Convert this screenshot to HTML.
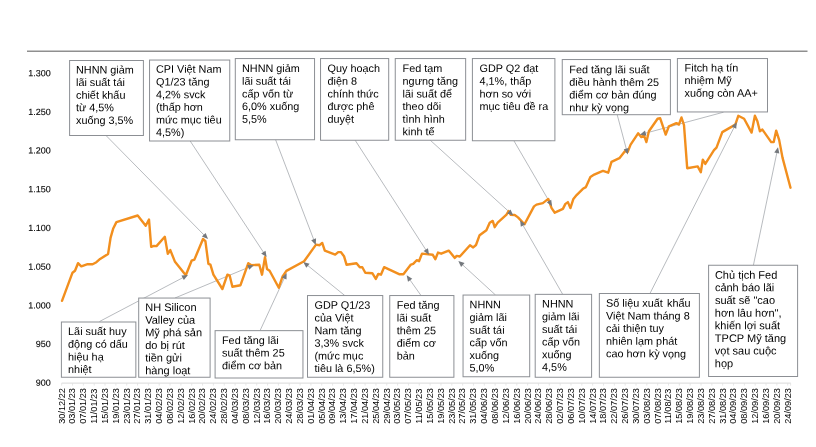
<!DOCTYPE html><html><head><meta charset="utf-8"><title>chart</title><style>html,body{margin:0;padding:0;background:#fff}svg{display:block}text{font-family:"Liberation Sans",sans-serif;fill:#000}</style></head><body>
<svg width="816" height="447" viewBox="0 0 816 447">
<rect width="816" height="447" fill="#fff"/>
<line x1="27" y1="51.2" x2="807.5" y2="51.2" stroke="#8f8f8f" stroke-width="1.4"/>
<line x1="61.7" y1="383.1" x2="790.8" y2="383.1" stroke="#d9d9d9" stroke-width="1"/>
<path d="M61.70 383.1V385.6M72.54 383.1V385.6M83.37 383.1V385.6M94.21 383.1V385.6M105.04 383.1V385.6M115.88 383.1V385.6M126.72 383.1V385.6M137.55 383.1V385.6M148.39 383.1V385.6M159.22 383.1V385.6M170.06 383.1V385.6M180.90 383.1V385.6M191.73 383.1V385.6M202.57 383.1V385.6M213.40 383.1V385.6M224.24 383.1V385.6M235.08 383.1V385.6M245.91 383.1V385.6M256.75 383.1V385.6M267.58 383.1V385.6M278.42 383.1V385.6M289.26 383.1V385.6M300.09 383.1V385.6M310.93 383.1V385.6M321.76 383.1V385.6M332.60 383.1V385.6M343.44 383.1V385.6M354.27 383.1V385.6M365.11 383.1V385.6M375.94 383.1V385.6M386.78 383.1V385.6M397.62 383.1V385.6M408.45 383.1V385.6M419.29 383.1V385.6M430.12 383.1V385.6M440.96 383.1V385.6M451.80 383.1V385.6M462.63 383.1V385.6M473.47 383.1V385.6M484.30 383.1V385.6M495.14 383.1V385.6M505.98 383.1V385.6M516.81 383.1V385.6M527.65 383.1V385.6M538.48 383.1V385.6M549.32 383.1V385.6M560.16 383.1V385.6M570.99 383.1V385.6M581.83 383.1V385.6M592.66 383.1V385.6M603.50 383.1V385.6M614.34 383.1V385.6M625.17 383.1V385.6M636.01 383.1V385.6M646.84 383.1V385.6M657.68 383.1V385.6M668.52 383.1V385.6M679.35 383.1V385.6M690.19 383.1V385.6M701.02 383.1V385.6M711.86 383.1V385.6M722.70 383.1V385.6M733.53 383.1V385.6M744.37 383.1V385.6M755.20 383.1V385.6M766.04 383.1V385.6M776.88 383.1V385.6M787.71 383.1V385.6M790.6 383.1V385.6" stroke="#e0e0e0" stroke-width="0.8" fill="none"/>
<text x="50.8" y="76.20" font-size="9" text-anchor="end" fill="#111" stroke="#111" stroke-width="0.1" transform="rotate(0.03 50 72.9)">1.300</text>
<text x="50.8" y="114.90" font-size="9" text-anchor="end" fill="#111" stroke="#111" stroke-width="0.1" transform="rotate(0.03 50 111.6)">1.250</text>
<text x="50.8" y="153.60" font-size="9" text-anchor="end" fill="#111" stroke="#111" stroke-width="0.1" transform="rotate(0.03 50 150.3)">1.200</text>
<text x="50.8" y="192.30" font-size="9" text-anchor="end" fill="#111" stroke="#111" stroke-width="0.1" transform="rotate(0.03 50 189.0)">1.150</text>
<text x="50.8" y="231.00" font-size="9" text-anchor="end" fill="#111" stroke="#111" stroke-width="0.1" transform="rotate(0.03 50 227.7)">1.100</text>
<text x="50.8" y="269.70" font-size="9" text-anchor="end" fill="#111" stroke="#111" stroke-width="0.1" transform="rotate(0.03 50 266.4)">1.050</text>
<text x="50.8" y="308.40" font-size="9" text-anchor="end" fill="#111" stroke="#111" stroke-width="0.1" transform="rotate(0.03 50 305.1)">1.000</text>
<text x="50.8" y="347.10" font-size="9" text-anchor="end" fill="#111" stroke="#111" stroke-width="0.1" transform="rotate(0.03 50 343.8)">950</text>
<text x="50.8" y="385.80" font-size="9" text-anchor="end" fill="#111" stroke="#111" stroke-width="0.1" transform="rotate(0.03 50 382.5)">900</text>
<text transform="translate(64.55 423.8) rotate(-90) scale(1 1.08)" font-size="9.2" fill="#1a1a1a">30/12/22</text>
<text transform="translate(75.39 423.8) rotate(-90) scale(1 1.08)" font-size="9.2" fill="#1a1a1a">03/01/23</text>
<text transform="translate(86.22 423.8) rotate(-90) scale(1 1.08)" font-size="9.2" fill="#1a1a1a">07/01/23</text>
<text transform="translate(97.06 423.8) rotate(-90) scale(1 1.08)" font-size="9.2" fill="#1a1a1a">11/01/23</text>
<text transform="translate(107.89 423.8) rotate(-90) scale(1 1.08)" font-size="9.2" fill="#1a1a1a">15/01/23</text>
<text transform="translate(118.73 423.8) rotate(-90) scale(1 1.08)" font-size="9.2" fill="#1a1a1a">19/01/23</text>
<text transform="translate(129.57 423.8) rotate(-90) scale(1 1.08)" font-size="9.2" fill="#1a1a1a">23/01/23</text>
<text transform="translate(140.40 423.8) rotate(-90) scale(1 1.08)" font-size="9.2" fill="#1a1a1a">27/01/23</text>
<text transform="translate(151.24 423.8) rotate(-90) scale(1 1.08)" font-size="9.2" fill="#1a1a1a">31/01/23</text>
<text transform="translate(162.07 423.8) rotate(-90) scale(1 1.08)" font-size="9.2" fill="#1a1a1a">04/02/23</text>
<text transform="translate(172.91 423.8) rotate(-90) scale(1 1.08)" font-size="9.2" fill="#1a1a1a">08/02/23</text>
<text transform="translate(183.75 423.8) rotate(-90) scale(1 1.08)" font-size="9.2" fill="#1a1a1a">12/02/23</text>
<text transform="translate(194.58 423.8) rotate(-90) scale(1 1.08)" font-size="9.2" fill="#1a1a1a">16/02/23</text>
<text transform="translate(205.42 423.8) rotate(-90) scale(1 1.08)" font-size="9.2" fill="#1a1a1a">20/02/23</text>
<text transform="translate(216.25 423.8) rotate(-90) scale(1 1.08)" font-size="9.2" fill="#1a1a1a">24/02/23</text>
<text transform="translate(227.09 423.8) rotate(-90) scale(1 1.08)" font-size="9.2" fill="#1a1a1a">28/02/23</text>
<text transform="translate(237.93 423.8) rotate(-90) scale(1 1.08)" font-size="9.2" fill="#1a1a1a">04/03/23</text>
<text transform="translate(248.76 423.8) rotate(-90) scale(1 1.08)" font-size="9.2" fill="#1a1a1a">08/03/23</text>
<text transform="translate(259.60 423.8) rotate(-90) scale(1 1.08)" font-size="9.2" fill="#1a1a1a">12/03/23</text>
<text transform="translate(270.43 423.8) rotate(-90) scale(1 1.08)" font-size="9.2" fill="#1a1a1a">16/03/23</text>
<text transform="translate(281.27 423.8) rotate(-90) scale(1 1.08)" font-size="9.2" fill="#1a1a1a">20/03/23</text>
<text transform="translate(292.11 423.8) rotate(-90) scale(1 1.08)" font-size="9.2" fill="#1a1a1a">24/03/23</text>
<text transform="translate(302.94 423.8) rotate(-90) scale(1 1.08)" font-size="9.2" fill="#1a1a1a">28/03/23</text>
<text transform="translate(313.78 423.8) rotate(-90) scale(1 1.08)" font-size="9.2" fill="#1a1a1a">01/04/23</text>
<text transform="translate(324.61 423.8) rotate(-90) scale(1 1.08)" font-size="9.2" fill="#1a1a1a">05/04/23</text>
<text transform="translate(335.45 423.8) rotate(-90) scale(1 1.08)" font-size="9.2" fill="#1a1a1a">09/04/23</text>
<text transform="translate(346.29 423.8) rotate(-90) scale(1 1.08)" font-size="9.2" fill="#1a1a1a">13/04/23</text>
<text transform="translate(357.12 423.8) rotate(-90) scale(1 1.08)" font-size="9.2" fill="#1a1a1a">17/04/23</text>
<text transform="translate(367.96 423.8) rotate(-90) scale(1 1.08)" font-size="9.2" fill="#1a1a1a">21/04/23</text>
<text transform="translate(378.79 423.8) rotate(-90) scale(1 1.08)" font-size="9.2" fill="#1a1a1a">25/04/23</text>
<text transform="translate(389.63 423.8) rotate(-90) scale(1 1.08)" font-size="9.2" fill="#1a1a1a">29/04/23</text>
<text transform="translate(400.47 423.8) rotate(-90) scale(1 1.08)" font-size="9.2" fill="#1a1a1a">03/05/23</text>
<text transform="translate(411.30 423.8) rotate(-90) scale(1 1.08)" font-size="9.2" fill="#1a1a1a">07/05/23</text>
<text transform="translate(422.14 423.8) rotate(-90) scale(1 1.08)" font-size="9.2" fill="#1a1a1a">11/05/23</text>
<text transform="translate(432.97 423.8) rotate(-90) scale(1 1.08)" font-size="9.2" fill="#1a1a1a">15/05/23</text>
<text transform="translate(443.81 423.8) rotate(-90) scale(1 1.08)" font-size="9.2" fill="#1a1a1a">19/05/23</text>
<text transform="translate(454.65 423.8) rotate(-90) scale(1 1.08)" font-size="9.2" fill="#1a1a1a">23/05/23</text>
<text transform="translate(465.48 423.8) rotate(-90) scale(1 1.08)" font-size="9.2" fill="#1a1a1a">27/05/23</text>
<text transform="translate(476.32 423.8) rotate(-90) scale(1 1.08)" font-size="9.2" fill="#1a1a1a">31/05/23</text>
<text transform="translate(487.15 423.8) rotate(-90) scale(1 1.08)" font-size="9.2" fill="#1a1a1a">04/06/23</text>
<text transform="translate(497.99 423.8) rotate(-90) scale(1 1.08)" font-size="9.2" fill="#1a1a1a">08/06/23</text>
<text transform="translate(508.83 423.8) rotate(-90) scale(1 1.08)" font-size="9.2" fill="#1a1a1a">12/06/23</text>
<text transform="translate(519.66 423.8) rotate(-90) scale(1 1.08)" font-size="9.2" fill="#1a1a1a">16/06/23</text>
<text transform="translate(530.50 423.8) rotate(-90) scale(1 1.08)" font-size="9.2" fill="#1a1a1a">20/06/23</text>
<text transform="translate(541.33 423.8) rotate(-90) scale(1 1.08)" font-size="9.2" fill="#1a1a1a">24/06/23</text>
<text transform="translate(552.17 423.8) rotate(-90) scale(1 1.08)" font-size="9.2" fill="#1a1a1a">28/06/23</text>
<text transform="translate(563.01 423.8) rotate(-90) scale(1 1.08)" font-size="9.2" fill="#1a1a1a">02/07/23</text>
<text transform="translate(573.84 423.8) rotate(-90) scale(1 1.08)" font-size="9.2" fill="#1a1a1a">06/07/23</text>
<text transform="translate(584.68 423.8) rotate(-90) scale(1 1.08)" font-size="9.2" fill="#1a1a1a">10/07/23</text>
<text transform="translate(595.51 423.8) rotate(-90) scale(1 1.08)" font-size="9.2" fill="#1a1a1a">14/07/23</text>
<text transform="translate(606.35 423.8) rotate(-90) scale(1 1.08)" font-size="9.2" fill="#1a1a1a">18/07/23</text>
<text transform="translate(617.19 423.8) rotate(-90) scale(1 1.08)" font-size="9.2" fill="#1a1a1a">22/07/23</text>
<text transform="translate(628.02 423.8) rotate(-90) scale(1 1.08)" font-size="9.2" fill="#1a1a1a">26/07/23</text>
<text transform="translate(638.86 423.8) rotate(-90) scale(1 1.08)" font-size="9.2" fill="#1a1a1a">30/07/23</text>
<text transform="translate(649.69 423.8) rotate(-90) scale(1 1.08)" font-size="9.2" fill="#1a1a1a">03/08/23</text>
<text transform="translate(660.53 423.8) rotate(-90) scale(1 1.08)" font-size="9.2" fill="#1a1a1a">07/08/23</text>
<text transform="translate(671.37 423.8) rotate(-90) scale(1 1.08)" font-size="9.2" fill="#1a1a1a">11/08/23</text>
<text transform="translate(682.20 423.8) rotate(-90) scale(1 1.08)" font-size="9.2" fill="#1a1a1a">15/08/23</text>
<text transform="translate(693.04 423.8) rotate(-90) scale(1 1.08)" font-size="9.2" fill="#1a1a1a">19/08/23</text>
<text transform="translate(703.87 423.8) rotate(-90) scale(1 1.08)" font-size="9.2" fill="#1a1a1a">23/08/23</text>
<text transform="translate(714.71 423.8) rotate(-90) scale(1 1.08)" font-size="9.2" fill="#1a1a1a">27/08/23</text>
<text transform="translate(725.55 423.8) rotate(-90) scale(1 1.08)" font-size="9.2" fill="#1a1a1a">31/08/23</text>
<text transform="translate(736.38 423.8) rotate(-90) scale(1 1.08)" font-size="9.2" fill="#1a1a1a">04/09/23</text>
<text transform="translate(747.22 423.8) rotate(-90) scale(1 1.08)" font-size="9.2" fill="#1a1a1a">08/09/23</text>
<text transform="translate(758.05 423.8) rotate(-90) scale(1 1.08)" font-size="9.2" fill="#1a1a1a">12/09/23</text>
<text transform="translate(768.89 423.8) rotate(-90) scale(1 1.08)" font-size="9.2" fill="#1a1a1a">16/09/23</text>
<text transform="translate(779.73 423.8) rotate(-90) scale(1 1.08)" font-size="9.2" fill="#1a1a1a">20/09/23</text>
<text transform="translate(790.56 423.8) rotate(-90) scale(1 1.08)" font-size="9.2" fill="#1a1a1a">24/09/23</text>
<line x1="106" y1="135.5" x2="205.9" y2="236.9" stroke="#9a9ea3" stroke-width="0.7"/>
<line x1="190" y1="140.75" x2="265" y2="254.6" stroke="#9a9ea3" stroke-width="0.7"/>
<line x1="275.5" y1="139.5" x2="314.7" y2="242.1" stroke="#9a9ea3" stroke-width="0.7"/>
<line x1="355" y1="140" x2="427.4" y2="252.2" stroke="#9a9ea3" stroke-width="0.7"/>
<line x1="430" y1="140" x2="511.0" y2="213.5" stroke="#9a9ea3" stroke-width="0.7"/>
<line x1="513.75" y1="140.5" x2="550.5" y2="203.6" stroke="#9a9ea3" stroke-width="0.7"/>
<line x1="617.2" y1="114.7" x2="627.0" y2="151.6" stroke="#9a9ea3" stroke-width="0.7"/>
<line x1="723.5" y1="112.2" x2="642.8" y2="133.9" stroke="#9a9ea3" stroke-width="0.7"/>
<line x1="99.5" y1="321.5" x2="185.3" y2="276.4" stroke="#9a9ea3" stroke-width="0.7"/>
<line x1="175" y1="298" x2="251.0" y2="266.3" stroke="#9a9ea3" stroke-width="0.7"/>
<line x1="260.1" y1="330.5" x2="285.4" y2="275.8" stroke="#9a9ea3" stroke-width="0.7"/>
<line x1="344.75" y1="295.5" x2="305.6" y2="263.8" stroke="#9a9ea3" stroke-width="0.7"/>
<line x1="421" y1="295.5" x2="408.4" y2="277.7" stroke="#9a9ea3" stroke-width="0.7"/>
<line x1="495.5" y1="295" x2="460.6" y2="263.0" stroke="#9a9ea3" stroke-width="0.7"/>
<line x1="562.5" y1="294" x2="521.6" y2="222.9" stroke="#9a9ea3" stroke-width="0.7"/>
<line x1="650.1" y1="293.2" x2="735.3" y2="125" stroke="#9a9ea3" stroke-width="0.7"/>
<line x1="753.4" y1="265.3" x2="777.4" y2="150.1" stroke="#9a9ea3" stroke-width="0.7"/>
<path d="M62.0 300.8 L72.5 272.7 L75.0 270.7 L78.0 263.2 L81.3 266.4 L87.6 264.2 L92.6 264.2 L96.4 262.2 L100.1 258.9 L108.1 253.9 L110.6 237.6 L113.1 228.8 L116.4 222.1 L137.7 215.5 L145.7 225.8 L149.0 219.5 L151.2 246.9 L154.0 245.9 L156.5 246.1 L164.8 236.8 L167.8 253.9 L170.3 250.1 L174.8 261.4 L185.8 275.2 L191.6 260.7 L194.4 259.6 L203.0 239.0 L205.4 241.2 L208.4 263.9 L210.4 264.7 L213.4 274.7 L222.4 289.0 L227.4 274.7 L229.7 275.7 L232.4 286.7 L240.5 285.2 L248.3 263.2 L251.5 265.2 L259.3 264.7 L262.0 274.7 L265.0 257.1 L267.0 268.9 L269.6 270.7 L278.8 287.7 L282.6 276.4 L286.4 270.9 L304.1 261.3 L316.0 244.6 L319.6 245.2 L322.2 242.9 L324.8 250.6 L335.2 254.6 L338.2 252.1 L340.8 252.1 L344.0 256.2 L346.5 264.7 L356.5 263.2 L359.8 267.2 L362.3 267.2 L365.3 272.7 L372.3 273.2 L375.8 278.9 L378.3 273.9 L380.9 274.7 L384.1 267.2 L399.1 274.2 L403.4 274.2 L410.9 264.6 L413.2 263.9 L416.7 260.2 L419.0 261.2 L422.0 253.6 L432.8 254.8 L435.3 259.2 L438.0 252.6 L441.2 253.7 L448.7 250.6 L454.8 257.9 L456.7 255.9 L459.8 256.5 L470.0 245.3 L473.2 247.4 L476.0 245.0 L479.6 235.2 L486.4 230.2 L489.7 222.7 L492.7 220.9 L494.7 227.2 L497.7 222.7 L506.5 214.7 L508.6 211.0 L510.8 214.9 L514.7 215.0 L518.0 217.4 L524.5 224.3 L534.0 206.4 L536.5 204.6 L542.8 203.1 L548.3 198.9 L551.6 208.1 L554.8 212.7 L562.9 208.9 L565.4 203.9 L567.9 202.1 L570.4 208.1 L573.4 198.9 L576.6 195.1 L582.9 188.8 L585.9 187.1 L590.4 177.1 L594.2 174.6 L600.5 171.8 L603.0 170.9 L608.2 172.7 L611.5 161.9 L619.4 158.2 L625.1 150.9 L627.6 152.1 L630.6 144.6 L638.1 133.3 L641.4 137.1 L643.9 135.1 L646.4 142.1 L648.9 131.3 L657.6 118.8 L660.2 118.3 L665.7 134.6 L668.9 126.3 L676.4 123.1 L678.9 124.6 L681.5 117.5 L684.0 125.1 L687.2 168.2 L697.7 166.4 L700.8 172.2 L702.8 159.6 L705.3 163.9 L714.0 150.1 L716.5 147.6 L722.3 132.1 L735.3 124.6 L738.3 115.8 L744.1 118.8 L751.6 132.6 L754.9 115.8 L757.4 121.3 L759.9 131.3 L762.4 129.6 L771.2 142.1 L773.7 142.1 L776.2 130.6 L779.2 140.1 L782.5 157.6 L790.5 187.7" fill="none" stroke="#F28F1E" stroke-width="2.4" stroke-linejoin="round" stroke-linecap="round"/>
<polygon points="208.01,239.04 201.94,236.59 205.65,232.94" fill="#74787d"/>
<polygon points="266.65,257.11 261.18,253.53 265.52,250.66" fill="#74787d"/>
<polygon points="315.77,244.90 311.20,240.23 316.06,238.37" fill="#74787d"/>
<polygon points="429.03,254.72 423.59,251.09 427.96,248.27" fill="#74787d"/>
<polygon points="513.22,215.52 507.03,213.41 510.53,209.56" fill="#74787d"/>
<polygon points="552.01,206.19 546.74,202.32 551.24,199.70" fill="#74787d"/>
<polygon points="627.77,154.50 623.72,149.37 628.74,148.03" fill="#74787d"/>
<polygon points="639.90,134.68 645.02,130.61 646.37,135.63" fill="#74787d"/>
<polygon points="187.96,275.00 183.85,280.10 181.43,275.49" fill="#74787d"/>
<polygon points="253.77,265.15 249.23,269.85 247.23,265.06" fill="#74787d"/>
<polygon points="286.66,273.08 286.50,279.61 281.78,277.43" fill="#74787d"/>
<polygon points="303.27,261.91 309.57,263.67 306.30,267.71" fill="#74787d"/>
<polygon points="406.67,275.25 412.26,278.65 408.01,281.65" fill="#74787d"/>
<polygon points="458.39,260.97 464.57,263.11 461.05,266.94" fill="#74787d"/>
<polygon points="520.10,220.30 525.35,224.20 520.84,226.80" fill="#74787d"/>
<polygon points="736.66,122.32 736.26,128.85 731.62,126.50" fill="#74787d"/>
<polygon points="778.01,147.16 779.33,153.57 774.24,152.51" fill="#74787d"/>
<rect x="69.6" y="60.5" width="73.80" height="75.00" fill="#fff" stroke="#8c8f94" stroke-width="1"/>
<text font-size="10.85" transform="rotate(0.03 76.0 73.4)"><tspan x="76.0" y="73.40">NHNN giảm</tspan><tspan x="76.0" y="86.05">lãi suất tái</tspan><tspan x="76.0" y="98.70">chiết khấu</tspan><tspan x="76.0" y="111.35">từ 4,5%</tspan><tspan x="76.0" y="124.00">xuống 3,5%</tspan></text>
<rect x="149.55" y="60.05" width="80.20" height="80.95" fill="#fff" stroke="#8c8f94" stroke-width="1"/>
<text font-size="10.85" transform="rotate(0.03 156.0 72.85)"><tspan x="156.0" y="72.85">CPI Việt Nam</tspan><tspan x="156.0" y="85.50">Q1/23 tăng</tspan><tspan x="156.0" y="98.15">4,2% svck</tspan><tspan x="156.0" y="110.80">(thấp hơn</tspan><tspan x="156.0" y="123.45">mức mục tiêu</tspan><tspan x="156.0" y="136.10">4,5%)</tspan></text>
<rect x="235.3" y="58.55" width="79.25" height="81.20" fill="#fff" stroke="#8c8f94" stroke-width="1"/>
<text font-size="10.85" transform="rotate(0.03 242.0 72.1)"><tspan x="242.0" y="72.10">NHNN giảm</tspan><tspan x="242.0" y="84.75">lãi suất tái</tspan><tspan x="242.0" y="97.40">cấp vốn từ</tspan><tspan x="242.0" y="110.05">6,0% xuống</tspan><tspan x="242.0" y="122.70">5,5%</tspan></text>
<rect x="320.55" y="58.55" width="68.15" height="81.70" fill="#fff" stroke="#8c8f94" stroke-width="1"/>
<text font-size="10.85" transform="rotate(0.03 327.5 72.1)"><tspan x="327.5" y="72.10">Quy hoạch</tspan><tspan x="327.5" y="84.75">điện 8</tspan><tspan x="327.5" y="97.40">chính thức</tspan><tspan x="327.5" y="110.05">được phê</tspan><tspan x="327.5" y="122.70">duyệt</tspan></text>
<rect x="395.25" y="58.55" width="70.40" height="81.70" fill="#fff" stroke="#8c8f94" stroke-width="1"/>
<text font-size="10.85" transform="rotate(0.03 402.6 72.1)"><tspan x="402.6" y="72.10">Fed tạm</tspan><tspan x="402.6" y="84.75">ngưng tăng</tspan><tspan x="402.6" y="97.40">lãi suất để</tspan><tspan x="402.6" y="110.05">theo dõi</tspan><tspan x="402.6" y="122.70">tình hình</tspan><tspan x="402.6" y="135.35">kinh tế</tspan></text>
<rect x="472.4" y="58.55" width="82.50" height="82.20" fill="#fff" stroke="#8c8f94" stroke-width="1"/>
<text font-size="10.85" transform="rotate(0.03 479.5 72.1)"><tspan x="479.5" y="72.10">GDP Q2 đạt</tspan><tspan x="479.5" y="84.75">4,1%, thấp</tspan><tspan x="479.5" y="97.40">hơn so với</tspan><tspan x="479.5" y="110.05">mục tiêu đề ra</tspan></text>
<rect x="562.25" y="59.55" width="108.15" height="55.15" fill="#fff" stroke="#8c8f94" stroke-width="1"/>
<text font-size="10.85" transform="rotate(0.03 569.3 73.2)"><tspan x="569.3" y="73.20">Fed tăng lãi suất</tspan><tspan x="569.3" y="85.85">điều hành thêm 25</tspan><tspan x="569.3" y="98.50">điểm cơ bản đúng</tspan><tspan x="569.3" y="111.15">như kỳ vọng</tspan></text>
<rect x="677.4" y="58.55" width="90.10" height="53.40" fill="#fff" stroke="#8c8f94" stroke-width="1"/>
<text font-size="10.85" transform="rotate(0.03 684.6 71.4)"><tspan x="684.6" y="71.40">Fitch hạ tín</tspan><tspan x="684.6" y="84.05">nhiệm Mỹ</tspan><tspan x="684.6" y="96.70">xuống còn AA+</tspan></text>
<rect x="61.4" y="322.0" width="74.45" height="55.25" fill="#fff" stroke="#8c8f94" stroke-width="1"/>
<text font-size="10.85" transform="rotate(0.03 68.1 335.1)"><tspan x="68.1" y="335.10">Lãi suất huy</tspan><tspan x="68.1" y="347.75">động có dấu</tspan><tspan x="68.1" y="360.40">hiệu hạ</tspan><tspan x="68.1" y="373.05">nhiệt</tspan></text>
<rect x="138.7" y="298.05" width="71.40" height="79.20" fill="#fff" stroke="#8c8f94" stroke-width="1"/>
<text font-size="11.0" transform="rotate(0.03 145.2 311.0)"><tspan x="145.2" y="311.00">NH Silicon</tspan><tspan x="145.2" y="323.65">Valley của</tspan><tspan x="145.2" y="336.30">Mỹ phá sản</tspan><tspan x="145.2" y="348.95">do bị rút</tspan><tspan x="145.2" y="361.60">tiền gửi</tspan><tspan x="145.2" y="374.25">hàng loạt</tspan></text>
<rect x="215.1" y="330.65" width="87.85" height="47.35" fill="#fff" stroke="#8c8f94" stroke-width="1"/>
<text font-size="10.85" transform="rotate(0.03 222.0 343.9)"><tspan x="222.0" y="343.90">Fed tăng lãi</tspan><tspan x="222.0" y="356.55">suất thêm 25</tspan><tspan x="222.0" y="369.20">điểm cơ bản</tspan></text>
<rect x="307.5" y="295.55" width="75.25" height="81.70" fill="#fff" stroke="#8c8f94" stroke-width="1"/>
<text font-size="10.85" transform="rotate(0.03 314.5 308.85)"><tspan x="314.5" y="308.85">GDP Q1/23</tspan><tspan x="314.5" y="321.50">của Việt</tspan><tspan x="314.5" y="334.15">Nam tăng</tspan><tspan x="314.5" y="346.80">3,3% svck</tspan><tspan x="314.5" y="359.45">(mức mục</tspan><tspan x="314.5" y="372.10">tiêu là 6,5%)</tspan></text>
<rect x="389.75" y="295.55" width="64.15" height="81.70" fill="#fff" stroke="#8c8f94" stroke-width="1"/>
<text font-size="10.85" transform="rotate(0.03 396.8 308.85)"><tspan x="396.8" y="308.85">Fed tăng</tspan><tspan x="396.8" y="321.50">lãi suất</tspan><tspan x="396.8" y="334.15">thêm 25</tspan><tspan x="396.8" y="346.80">điểm cơ</tspan><tspan x="396.8" y="359.45">bản</tspan></text>
<rect x="463.05" y="295.05" width="66.65" height="81.70" fill="#fff" stroke="#8c8f94" stroke-width="1"/>
<text font-size="10.85" transform="rotate(0.03 469.6 308.35)"><tspan x="469.6" y="308.35">NHNN</tspan><tspan x="469.6" y="321.00">giảm lãi</tspan><tspan x="469.6" y="333.65">suất tái</tspan><tspan x="469.6" y="346.30">cấp vốn</tspan><tspan x="469.6" y="358.95">xuống</tspan><tspan x="469.6" y="371.60">5,0%</tspan></text>
<rect x="535.2" y="294.35" width="56.40" height="82.90" fill="#fff" stroke="#8c8f94" stroke-width="1"/>
<text font-size="10.85" transform="rotate(0.03 542.1 307.6)"><tspan x="542.1" y="307.60">NHNN</tspan><tspan x="542.1" y="320.25">giảm lãi</tspan><tspan x="542.1" y="332.90">suất tái</tspan><tspan x="542.1" y="345.55">cấp vốn</tspan><tspan x="542.1" y="358.20">xuống</tspan><tspan x="542.1" y="370.85">4,5%</tspan></text>
<rect x="599.35" y="293.5" width="100.05" height="83.75" fill="#fff" stroke="#8c8f94" stroke-width="1"/>
<text font-size="10.85" transform="rotate(0.03 606.1 306.75)"><tspan x="606.1" y="306.75">Số liệu xuất <tspan dx="1.3">khẩu</tspan></tspan><tspan x="606.1" y="319.40">Việt Nam tháng 8</tspan><tspan x="606.1" y="332.05">cải thiện tuy</tspan><tspan x="606.1" y="344.70">nhiên lạm phát</tspan><tspan x="606.1" y="357.35">cao hơn kỳ vọng</tspan></text>
<rect x="708.6" y="265.25" width="89.00" height="111.25" fill="#fff" stroke="#8c8f94" stroke-width="1"/>
<text font-size="11.0" transform="rotate(0.03 714.9 278.7)"><tspan x="714.9" y="278.70">Chủ tịch Fed</tspan><tspan x="714.9" y="291.35">cảnh báo lãi</tspan><tspan x="714.9" y="304.00">suất sẽ &quot;cao</tspan><tspan x="714.9" y="316.65">hơn lâu hơn&quot;,</tspan><tspan x="714.9" y="329.30">khiến lợi suất</tspan><tspan x="714.9" y="341.95">TPCP Mỹ tăng</tspan><tspan x="714.9" y="354.60">vọt sau cuộc</tspan><tspan x="714.9" y="367.25">họp</tspan></text>
</svg></body></html>
